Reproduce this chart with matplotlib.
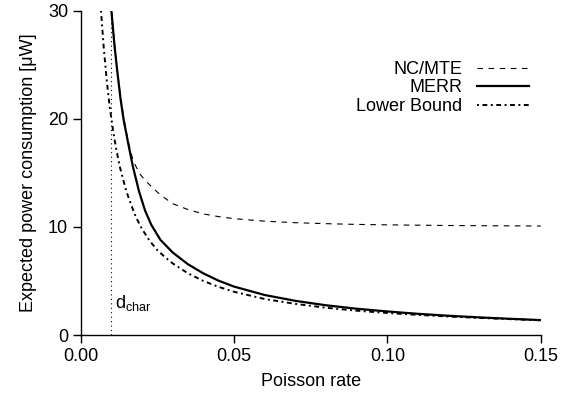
import matplotlib
matplotlib.use('Agg')
import matplotlib.pyplot as plt

# values
rate_nc = [0.0100, 0.0110, 0.0120, 0.0130, 0.0140, 0.0155, 0.0170, 0.0190, 0.0210,
           0.0230, 0.0260, 0.0300, 0.0350, 0.0400, 0.0450, 0.0500, 0.0600, 0.0700,
           0.0800, 0.0900, 0.1000, 0.1100, 0.1200, 0.1300, 0.1400, 0.1500]
power_nc = [30.0, 27.0, 24.3, 22.0, 20.1, 17.9, 16.2, 15.0, 14.3, 13.75, 12.95, 12.15,
            11.6, 11.2, 10.95, 10.76, 10.53, 10.39, 10.3, 10.23, 10.19, 10.16,
            10.13, 10.11, 10.1, 10.08]

rate_merr = [0.0100, 0.0110, 0.0120, 0.0130, 0.0140, 0.0155, 0.0170, 0.0190, 0.0210,
             0.0230, 0.0260, 0.0300, 0.0350, 0.0400, 0.0450, 0.0500, 0.0600, 0.0700,
             0.0800, 0.0900, 0.1000, 0.1100, 0.1200, 0.1300, 0.1400, 0.1500]
power_merr = [30.0, 26.8, 24.2, 21.8, 19.9, 17.7, 15.6, 13.3, 11.5, 10.2, 8.8, 7.63,
              6.54, 5.7, 5.02, 4.48, 3.7, 3.16, 2.75, 2.43, 2.18, 1.96, 1.78, 1.63,
              1.5, 1.38]

rate_lb = [0.0066, 0.0075, 0.0085, 0.0095, 0.0105, 0.0115, 0.0128, 0.0140, 0.0150,
           0.0165, 0.0180, 0.0200, 0.0225, 0.0250, 0.0275, 0.0300, 0.0350, 0.0400,
           0.0450, 0.0500, 0.0600, 0.0700, 0.0800, 0.0900, 0.1000, 0.1100, 0.1200,
           0.1300, 0.1400, 0.1500]
power_lb = [30.0, 26.6, 23.5, 21.0, 19.0, 17.3, 15.5, 14.2, 13.2, 12.0, 10.9, 9.8,
            8.7, 7.85, 7.2, 6.62, 5.7, 5.0, 4.45, 4.0, 3.33, 2.88, 2.52, 2.25,
            2.04, 1.86, 1.71, 1.58, 1.47, 1.36]

d_char = 0.01

plt.rcParams['font.family'] = ['Liberation Sans', 'DejaVu Sans']
plt.rcParams['mathtext.fontset'] = 'custom'
plt.rcParams['mathtext.rm'] = 'Liberation Sans'
plt.rcParams['mathtext.it'] = 'Liberation Sans'
fs = 13

fig = plt.figure(figsize=(5.61, 3.94), dpi=100)
ax = fig.add_axes([0.1439, 0.1497, 0.8199, 0.8232])

# curves
ax.plot(rate_nc, power_nc, color='black', linewidth=0.8, dashes=(5, 5), label='NC/MTE')
ax.plot(rate_merr, power_merr, color='black', linewidth=1.6, label='MERR')
ax.plot(rate_lb, power_lb, color='black', linewidth=1.4,
        dashes=(1, 1.8, 2.5, 1.8), label='Lower Bound')

# characteristic distance
ax.plot([d_char, d_char], [0, 30], color='black', linewidth=0.8, dashes=(1, 3))
ax.text(d_char + 0.0012, 2.0, r'd$_{\mathrm{char}}$', fontsize=fs, ha='left', va='bottom')

ax.set_xlim(0, 0.15)
ax.set_ylim(0, 30)
ax.set_xticks([0.00, 0.05, 0.10, 0.15])
ax.set_xticklabels(['0.00', '0.05', '0.10', '0.15'])
ax.set_yticks([0, 10, 20, 30])

for side in ['top', 'right']:
    ax.spines[side].set_visible(False)
for side in ['left', 'bottom']:
    ax.spines[side].set_linewidth(1.0)
ax.tick_params(direction='out', length=6, width=1.0, labelsize=fs, pad=3)

ax.set_xlabel('Poisson rate', fontsize=fs, labelpad=6)
ax.set_ylabel('Expected power consumption [\u03bcW]', fontsize=fs, labelpad=8)

ax.legend(loc='upper right', bbox_to_anchor=(0.975, 0.845), frameon=False,
          markerfirst=False, fontsize=fs, handlelength=2.9, handletextpad=0.8,
          labelspacing=0.08, borderpad=0, borderaxespad=0)

fig.savefig('out.png', dpi=100)
